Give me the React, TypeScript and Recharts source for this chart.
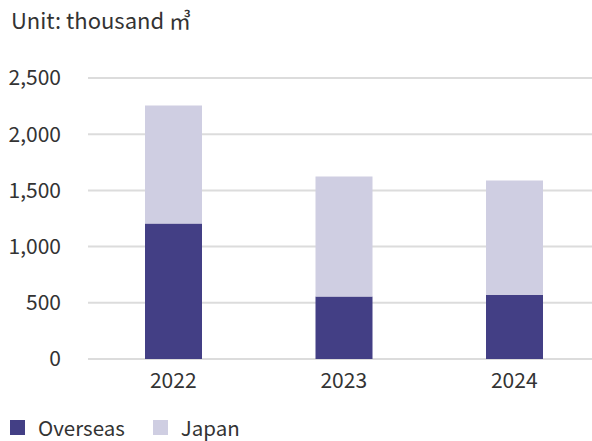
import React from 'react';
import { BarChart, Bar, XAxis, YAxis, CartesianGrid, Legend } from 'recharts';

const categories = ['2022', '2023', '2024'];
const overseas = [1205, 555, 572];
const japan = [1050, 1068, 1015];
const yTicks = [0, 500, 1000, 1500, 2000, 2500];
const seriesNames = ['Overseas', 'Japan'];
const unitLabel = 'Unit: thousand ㎥';

const data = categories.map((c, i) => ({ year: c, overseas: overseas[i], japan: japan[i] }));

const FONT = "'Noto Sans CJK JP', 'Noto Sans', sans-serif";
const TEXT = '#333333';
const C_OVERSEAS = '#433f85';
const C_JAPAN = '#cfcee2';

const LegendContent = (props: any) => {
  const payload = [...(props.payload || [])].sort(
    (a: any, b: any) => seriesNames.indexOf(a.value) - seriesNames.indexOf(b.value)
  );
  return (
    <div style={{ display: 'flex', alignItems: 'center', fontFamily: FONT, fontSize: 20.5, color: TEXT, lineHeight: '21px' }}>
      {payload.map((p: any, i: number) => (
        <div key={i} style={{ display: 'flex', alignItems: 'center', marginRight: 28 }}>
          <div style={{ width: 15, height: 15, background: p.color, marginRight: 13 }} />
          <span>{p.value}</span>
        </div>
      ))}
    </div>
  );
};

export default function App() {
  return (
    <div style={{ position: 'absolute', left: 0, top: 0, width: 592, height: 441, overflow: 'hidden', background: '#fff' }}>
      <svg width={592} height={50} style={{ position: 'absolute', left: 0, top: 0 }}>
        <text x={11} y={29} fontFamily={FONT} fontSize={22} fill={TEXT}>{unitLabel}</text>
      </svg>
      <BarChart width={600} height={441} data={data} margin={{ top: 78, right: 0.5, left: 8, bottom: 52 }}>
        <CartesianGrid vertical={false} stroke="#dcdcdc" strokeWidth={2} />
        <XAxis
          dataKey="year"
          axisLine={false}
          tickLine={false}
          tickSize={0}
          tickMargin={14}
          height={30}
          tick={{ fontFamily: FONT, fontSize: 21, fill: TEXT }}
        />
        <YAxis
          width={80}
          domain={[0, 2500]}
          ticks={yTicks}
          axisLine={false}
          tickLine={false}
          tickSize={0}
          tickMargin={27}
          interval={0}
          tickFormatter={(v: number) => v.toLocaleString('en-US')}
          tick={{ fontFamily: FONT, fontSize: 21, fill: TEXT }}
        />
        <Legend
          verticalAlign="middle"
          layout="horizontal"
          content={<LegendContent />}
          wrapperStyle={{ position: 'absolute', left: 10, top: 417, width: 400, height: 22 }}
        />
        <Bar dataKey="overseas" name={seriesNames[0]} stackId="a" fill={C_OVERSEAS} barSize={57} isAnimationActive={false} />
        <Bar dataKey="japan" name={seriesNames[1]} stackId="a" fill={C_JAPAN} barSize={57} isAnimationActive={false} />
      </BarChart>
    </div>
  );
}
